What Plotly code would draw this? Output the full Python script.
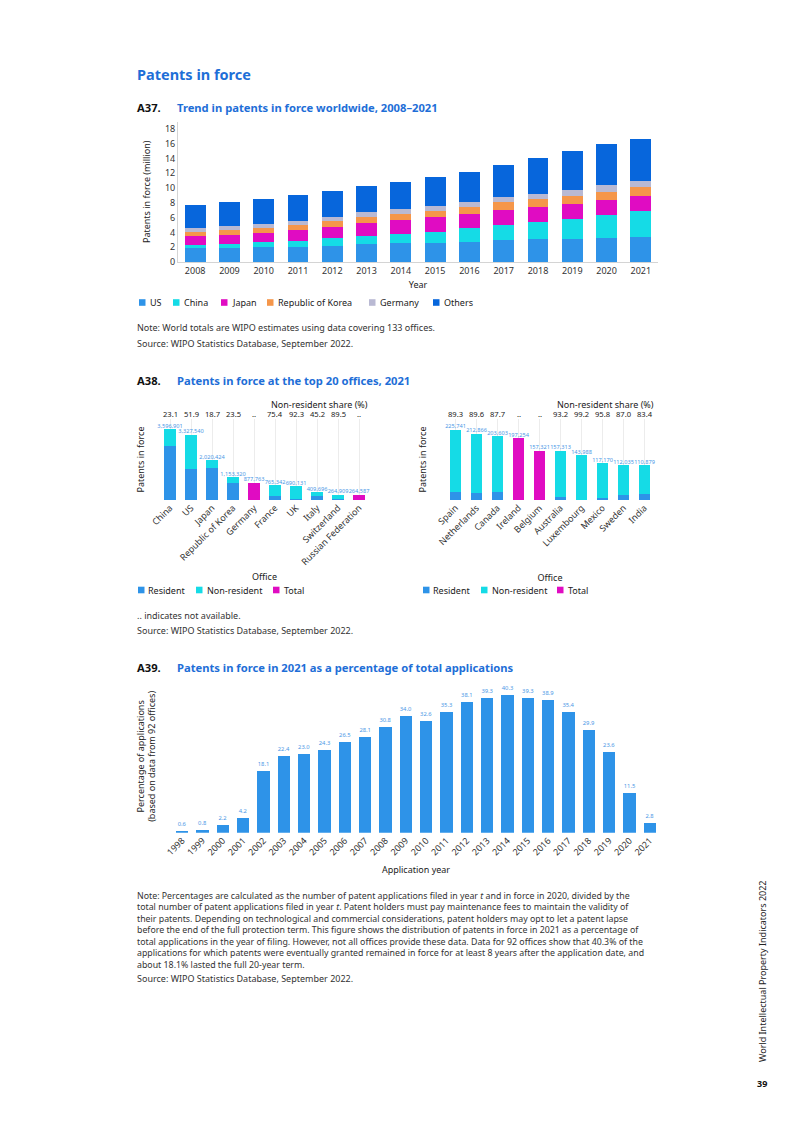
import plotly.graph_objects as go

W, H = 793, 1122
OFF = 8  # the page body adds an 8px margin


def fx(p):
    return (p - OFF) / W


def fy(p):
    return 1 - (p - OFF) / H


FONT = "Noto Sans"
BLUE_T = "#1E6ED7"
C_US = "#2E93E8"
C_CN = "#15DBE6"
C_JP = "#E00CC2"
C_KR = "#F5964A"
C_DE = "#B9B9D3"
C_OT = "#0766DC"
LBL = "#4A97E6"

# ---------------- A37 data (million) ----------------
years37 = [str(y) for y in range(2008, 2022)]
us = [1.90, 1.95, 2.04, 2.08, 2.22, 2.38, 2.53, 2.62, 2.71, 2.98, 3.06, 3.12, 3.30, 3.33]
china = [0.36, 0.45, 0.63, 0.77, 0.98, 1.10, 1.27, 1.50, 1.86, 2.09, 2.37, 2.67, 3.06, 3.60]
japan = [1.27, 1.31, 1.31, 1.49, 1.55, 1.77, 1.90, 1.94, 1.93, 2.01, 2.06, 2.05, 2.04, 2.02]
korea = [0.54, 0.63, 0.68, 0.73, 0.82, 0.85, 0.80, 0.86, 0.92, 0.99, 1.03, 1.07, 1.12, 1.15]
germany = [0.59, 0.59, 0.54, 0.54, 0.53, 0.60, 0.65, 0.64, 0.68, 0.70, 0.75, 0.80, 0.84, 0.88]
others = [3.12, 3.17, 3.26, 3.39, 3.54, 3.57, 3.71, 3.89, 4.10, 4.33, 4.80, 5.29, 5.61, 5.62]
series37 = ["US", "China", "Japan", "Republic of Korea", "Germany", "Others"]

# ---------------- A38 data ----------------
offices_l = ["China", "US", "Japan", "Republic of Korea", "Germany", "France", "UK",
             "Italy", "Switzerland", "Russian Federation"]
total_l = [3596901, 3327540, 2020424, 1153320, 877763, 765342, 690131, 409696, 264909, 264587]
share_l = [23.1, 51.9, 18.7, 23.5, None, 75.4, 92.3, 45.2, 89.5, None]

offices_r = ["Spain", "Netherlands", "Canada", "Ireland", "Belgium", "Australia",
             "Luxembourg", "Mexico", "Sweden", "India"]
total_r = [225741, 212866, 203603, 197254, 157321, 157313, 143988, 117170, 112035, 110879]
share_r = [89.3, 89.6, 87.7, None, None, 93.2, 99.2, 95.8, 87.0, 83.4]
series38 = ["Resident", "Non-resident", "Total"]

# ---------------- A39 data ----------------
years39 = [str(y) for y in range(1998, 2022)]
pct39 = [0.6, 0.8, 2.2, 4.2, 18.1, 22.4, 23.0, 24.3, 26.5, 28.1, 30.8, 34.0, 32.6, 35.3,
         38.1, 39.3, 40.3, 39.3, 38.9, 35.4, 29.9, 23.6, 11.5, 2.8]

fig = go.Figure()

# A37 stacked bars
cols37 = [C_US, C_CN, C_JP, C_KR, C_DE, C_OT]
for name, vals, col in zip(series37, [us, china, japan, korea, germany, others], cols37):
    fig.add_trace(go.Bar(x=years37, y=vals, name=name, marker_color=col, width=0.61,
                         marker_line_width=0, xaxis="x", yaxis="y", showlegend=False))


def split(total, share):
    res, non, tot = [], [], []
    for t, s in zip(total, share):
        if s is None:
            res.append(None); non.append(None); tot.append(t)
        else:
            non.append(t * s / 100.0); res.append(t - t * s / 100.0); tot.append(None)
    return res, non, tot


cols38 = [C_US, C_CN, C_JP]
for offices, total, share, xa, ya in [(offices_l, total_l, share_l, "x2", "y2"),
                                      (offices_r, total_r, share_r, "x3", "y3")]:
    parts = split(total, share)
    for name, vals, col in zip(series38, parts, cols38):
        fig.add_trace(go.Bar(x=offices, y=vals, name=name, marker_color=col, width=0.56,
                             marker_line_width=0, xaxis=xa, yaxis=ya, showlegend=False))
    fig.add_trace(go.Scatter(x=offices, y=total, mode="text", texttemplate="%{y:,}",
                             textposition="top center", textfont=dict(size=5.6, color=LBL),
                             showlegend=False, hoverinfo="skip", xaxis=xa, yaxis=ya,
                             cliponaxis=False))
    for o, s in zip(offices, share):
        fig.add_annotation(x=o, xref=xa, y=fy(414), yref="paper",
                           text=".." if s is None else f"{s:.1f}", showarrow=False,
                           font=dict(family=FONT, size=7.6, color="#222"), yanchor="middle")

# A39
fig.add_trace(go.Bar(x=years39, y=pct39, marker_color=C_US, marker_line_width=0, width=0.6,
                     showlegend=False, texttemplate="%{y:.1f}", textposition="outside",
                     textfont=dict(size=5.8, color=LBL), cliponaxis=False,
                     xaxis="x4", yaxis="y4"))

tickf = dict(family=FONT, size=9, color="#333")
titlef = dict(family=FONT, size=9, color="#222")

fig.update_layout(
    width=W, height=H, margin=dict(l=0, r=0, t=0, b=0),
    paper_bgcolor="white", plot_bgcolor="white",
    font=dict(family=FONT, color="#222"),
    barmode="stack", showlegend=False,
    xaxis=dict(domain=[fx(178), fx(658)], anchor="y", type="category", showgrid=False,
               showline=True, linecolor="#d4d4d4", ticks="", tickfont=tickf, automargin=False,
               title=dict(text="Year", font=titlef, standoff=5)),
    yaxis=dict(domain=[fy(262), fy(121.6)], anchor="x", range=[0, 19], dtick=2,
               showgrid=False, showline=True, linecolor="#d4d4d4", ticks="", zeroline=False,
               tickfont=tickf, automargin=False,
               title=dict(text="Patents in force (million)", font=titlef, standoff=12)),
    xaxis2=dict(domain=[fx(159.5), fx(369.5)], anchor="y2", type="category", showgrid=True,
                gridcolor="#ececec", showline=False, ticks="", tickangle=-45, tickfont=tickf,
                automargin=False, title=dict(text="Office", font=titlef, standoff=6)),
    yaxis2=dict(domain=[fy(500), fy(419)], anchor="x2", range=[0, 4120900], showgrid=False,
                showticklabels=False, zeroline=False, showline=False, automargin=False,
                title=dict(text="Patents in force", font=titlef, standoff=12)),
    xaxis3=dict(domain=[fx(445), fx(655)], anchor="y3", type="category", showgrid=True,
                gridcolor="#ececec", showline=False, ticks="", tickangle=-45, tickfont=tickf,
                automargin=False, title=dict(text="Office", font=titlef, standoff=26)),
    yaxis3=dict(domain=[fy(500), fy(419)], anchor="x3", range=[0, 259360], showgrid=False,
                showticklabels=False, zeroline=False, showline=False, automargin=False,
                title=dict(text="Patents in force", font=titlef, standoff=15)),
    xaxis4=dict(domain=[fx(172), fx(660)], anchor="y4", type="category", showgrid=False,
                showline=False, ticks="", tickangle=-45, tickfont=tickf, automargin=False,
                title=dict(text="Application year", font=titlef, standoff=9)),
    yaxis4=dict(domain=[fy(832.7), fy(680)], anchor="x4", range=[0, 44.65], showgrid=False,
                showticklabels=False, zeroline=False, showline=False, automargin=False,
                title=dict(text="Percentage of applications<br>(based on data from 92 offices)",
                           font=titlef, standoff=13)),
)


def txt(x, y, text, size=9, color="#333", bold=False, **kw):
    if bold:
        text = f"<b>{text}</b>"
    fig.add_annotation(x=fx(x), y=fy(y), xref="paper", yref="paper", text=text,
                       showarrow=False, xanchor=kw.pop("xanchor", "left"),
                       yanchor=kw.pop("yanchor", "middle"), borderpad=0,
                       font=dict(family=FONT, size=size, color=color), **kw)


def legend(y, names, colors, sq_x, text_x):
    for n, c, sx, tx in zip(names, colors, sq_x, text_x):
        fig.add_shape(type="rect", xref="paper", yref="paper", x0=fx(sx), x1=fx(sx + 6.5),
                      y0=fy(y + 3.3), y1=fy(y - 3.3), fillcolor=c, line_width=0)
        txt(tx, y, n, size=9, color="#222")


# legends
legend(302.5, series37, cols37, [139, 173, 221, 267, 369, 433], [149, 183, 231, 277, 379, 443])
legend(590, series38, cols38, [138, 196, 273], [147, 206, 283])
legend(590, series38, cols38, [423, 481, 557], [432, 491, 567])

txt(136, 74, "Patents in force", size=14.5, color=BLUE_T, bold=True)
txt(136, 107, "A37.", size=11.2, color="#111", bold=True)
txt(176, 107, "Trend in patents in force worldwide, 2008–2021", size=11.2, color=BLUE_T, bold=True)
txt(136, 327, "Note: World totals are WIPO estimates using data covering 133 offices.")
txt(136, 343, "Source: WIPO Statistics Database, September 2022.")

txt(136, 380, "A38.", size=11.2, color="#111", bold=True)
txt(176, 380, "Patents in force at the top 20 offices, 2021", size=11.2, color=BLUE_T, bold=True)
txt(319, 404, "Non-resident share (%)", size=9, color="#222", xanchor="center")
txt(605, 404, "Non-resident share (%)", size=9, color="#222", xanchor="center")
txt(136, 615, ".. indicates not available.")
txt(136, 630, "Source: WIPO Statistics Database, September 2022.")

txt(136, 667, "A39.", size=11.2, color="#111", bold=True)
txt(176, 667, "Patents in force in 2021 as a percentage of total applications", size=11.2,
    color=BLUE_T, bold=True)

note39 = [
    "Note: Percentages are calculated as the number of patent applications filed in year <i>t</i> and in force in 2020, divided by the",
    "total number of patent applications filed in year <i>t</i>. Patent holders must pay maintenance fees to maintain the validity of",
    "their patents. Depending on technological and commercial considerations, patent holders may opt to let a patent lapse",
    "before the end of the full protection term. This figure shows the distribution of patents in force in 2021 as a percentage of",
    "total applications in the year of filing. However, not all offices provide these data. Data for 92 offices show that 40.3% of the",
    "applications for which patents were eventually granted remained in force for at least 8 years after the application date, and",
    "about 18.1% lasted the full 20-year term.",
]
txt(136, 889, "<br>".join(note39), size=8.8, yanchor="top", align="left")
txt(136, 978, "Source: WIPO Statistics Database, September 2022.", size=9)

txt(762, 972, "World Intellectual Property Indicators 2022", size=9, color="#222",
    xanchor="center", textangle=-90)
txt(762, 1083, "39", size=9, color="#111", bold=True, xanchor="center")

fig.write_html("out.html")
